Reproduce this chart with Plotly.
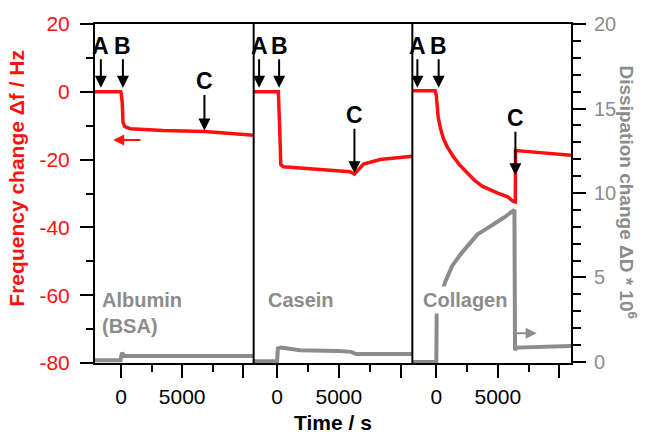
import numpy as np
import plotly.graph_objects as go

# ---------------- data ----------------
panels = ["Albumin<br>(BSA)", "Casein", "Collagen"]

# Frequency change (Hz)
t_f1 = [-2150, -50, 0, 80, 150, 300, 740, 3450, 6830, 10870]
f1 = [0, 0, -0.5, -3, -9, -10.3, -10.9, -11.4, -11.7, -12.8]
t_f2 = [-1900, 100, 200, 300, 500, 3000, 5900, 6260, 6500, 7000, 8350, 10950]
f2 = [0, 0, -10, -21.5, -22.1, -22.8, -23.6, -24.3, -23.2, -21.3, -20.0, -19.0]
t_f3 = [-1950, -100, 0, 50, 150, 350, 577, 900, 1400, 1900, 2530, 3100, 3765, 4400,
        5000, 5800, 6240, 6420, 6440, 7000, 9000, 10950]
f3 = [0.3, 0.3, -1, -4, -7.5, -11, -13.8, -16.3, -19.2, -21.6, -24.0, -26.1, -27.9, -29.0,
      -29.9, -31.0, -32.3, -32.5, -17.3, -17.5, -18.2, -18.7]

# Dissipation change (x 1e-6)
t_d1 = [-2150, -50, 0, 80, 250, 600, 3000, 7000, 10870]
d1 = [0.1, 0.1, 0.35, 0.55, 0.35, 0.35, 0.32, 0.3, 0.35]
t_d2 = [-1900, 0, 60, 300, 1000, 1850, 5000, 6000, 6400, 8000, 10950]
d2 = [0.05, 0.05, 0.8, 0.86, 0.78, 0.7, 0.65, 0.6, 0.47, 0.45, 0.47]
t_d3 = [-1950, 0, 30, 300, 750, 1300, 2000, 2700, 3350, 4000, 4700, 5500, 6350, 6400, 6500, 8000, 10950]
d3 = [0.0, 0.0, 2.9, 3.8, 4.8, 5.7, 6.4, 7.0, 7.55, 7.85, 8.15, 8.55, 9.0, 0.7, 0.85, 0.9, 0.95]

# injection events (s)
event_labels = ["A", "B", "C"]
events = [[-1670, 140, 6830], [-1460, 160, 6260], [-1540, 190, 6430]]

x_ranges = [[-2150, 10870], [-1900, 10950], [-1950, 10950]]
f_ticks = [-80, -60, -40, -20, 0, 20]
f_ticktext = ["-80", "-60", "-40", "-20", "0", "20"]
d_ticks = [0, 5, 10, 15, 20]
t_ticks = [0, 5000, 10000]
t_ticktext = ["0", "5000", ""]

RED = "#ff1010"
GRAY = "#8c8c8c"
FONT = "Liberation Sans, Arial, sans-serif"

freq = [(t_f1, f1), (t_f2, f2), (t_f3, f3)]
diss = [(t_d1, d1), (t_d2, d2), (t_d3, d3)]

fig = go.Figure()
xnames = ["x", "x2", "x3"]
for i in range(3):
    fig.add_trace(go.Scatter(x=diss[i][0], y=diss[i][1], mode="lines",
                             line=dict(color=GRAY, width=4),
                             xaxis=xnames[i], yaxis="y2", showlegend=False))
for i in range(3):
    fig.add_trace(go.Scatter(x=freq[i][0], y=freq[i][1], mode="lines",
                             line=dict(color=RED, width=3.5),
                             xaxis=xnames[i], yaxis="y", showlegend=False))

annotations = []
c_offsets = [-50, -59, -58]
for i in range(3):
    tf, ff = freq[i]
    for j, lab in enumerate(event_labels):
        te = events[i][j]
        if lab == "C":
            yv = float(np.interp(te, tf, ff))
            ay = c_offsets[i]
            so = 1
        else:
            yv = 0.0
            ay = -46
            so = 4
        annotations.append(dict(x=te, y=yv, xref=xnames[i], yref="y", text="<b>" + lab + "</b>",
                                showarrow=True, ax=0, ay=ay, arrowhead=2,
                                arrowsize=1.2, arrowwidth=2, arrowcolor="black",
                                standoff=so, borderpad=0,
                                font=dict(family=FONT, size=23, color="black")))

# protein labels
label_x = [0.0105, 0.357, 0.683]
for i, txt in enumerate(panels):
    if i == 0:
        annotations.append(dict(x=label_x[i], y=(363 - 313) / 342, xref="paper", yref="paper",
                                text="<b>" + txt + "</b>", showarrow=False, xanchor="left",
                                yanchor="middle", align="left", bgcolor="white",
                                font=dict(family=FONT, size=20, color=GRAY)))
    else:
        annotations.append(dict(x=label_x[i], y=(363 - 299) / 342, xref="paper", yref="paper",
                                text="<b>" + txt + "</b>", showarrow=False, xanchor="left",
                                yanchor="middle", bgcolor="white", borderpad=2,
                                font=dict(family=FONT, size=20, color=GRAY)))

# axis-direction arrows
annotations.append(dict(x=-660, y=-14.2, xref="x", yref="y", ax=1700, ay=-14.2,
                        axref="x", ayref="y", text="", showarrow=True, arrowhead=2,
                        arrowsize=1.1, arrowwidth=2, arrowcolor=RED))
annotations.append(dict(x=8160, y=1.7, xref="x3", yref="y2", ax=6100, ay=1.7,
                        axref="x3", ayref="y2", text="", showarrow=True, arrowhead=2,
                        arrowsize=1.1, arrowwidth=2, arrowcolor=GRAY))

# axis titles
annotations.append(dict(x=(17 - 95) / 476, y=(363 - 177) / 342, xref="paper", yref="paper",
                        xanchor="center", yanchor="middle",
                        text="<b>Frequency change Δf / Hz</b>", textangle=-90, showarrow=False,
                        font=dict(family=FONT, size=21, color=RED)))
annotations.append(dict(x=(628 - 95) / 476, y=(363 - 190) / 342, xref="paper", yref="paper",
                        xanchor="center", yanchor="middle",
                        text="<b>Dissipation change ΔD * 10<sup>6</sup></b>", textangle=90,
                        showarrow=False, font=dict(family=FONT, size=19, color=GRAY)))
annotations.append(dict(x=0.5, y=(363 - 423) / 342, xref="paper", yref="paper",
                        xanchor="center", yanchor="middle",
                        text="<b>Time / s</b>", showarrow=False,
                        font=dict(family=FONT, size=21, color="black")))

shapes = [dict(type="line", xref="paper", yref="paper", x0=k, x1=k, y0=0, y1=1,
               line=dict(color="black", width=2)) for k in (1 / 3, 2 / 3)]

layout = dict(
    width=646, height=440,
    margin=dict(l=95, r=75, t=21, b=77),
    plot_bgcolor="white", paper_bgcolor="white",
    font=dict(family=FONT),
    annotations=annotations, shapes=shapes,
    yaxis=dict(range=[-80, 20], tickvals=f_ticks, ticktext=f_ticktext, ticks="outside",
               ticklen=13, tickwidth=1.8, tickcolor="black", showline=True,
               linecolor="black", linewidth=2, showgrid=False, zeroline=False, anchor="x",
               tickfont=dict(size=21, color=RED), ticklabelstandoff=6,
               minor=dict(dtick=10, tick0=0, ticks="outside", ticklen=7,
                          tickwidth=1.8, tickcolor="black", showgrid=False)),
    yaxis2=dict(range=[-0.06, 20], tickvals=d_ticks, ticks="outside", ticklen=13,
                tickwidth=1.8, tickcolor="black", showline=True, linecolor="black",
                linewidth=2, showgrid=False, zeroline=False, overlaying="y",
                side="right", anchor="x3",
                tickfont=dict(size=20, color=GRAY), ticklabelstandoff=4,
                minor=dict(dtick=1, tick0=0, ticks="outside", ticklen=8,
                           tickwidth=1.8, tickcolor="black", showgrid=False)),
)
doms = [[0, 1 / 3], [1 / 3, 2 / 3], [2 / 3, 1]]
for i in range(3):
    key = "xaxis" if i == 0 else "xaxis%d" % (i + 1)
    layout[key] = dict(domain=doms[i], range=x_ranges[i], anchor="y",
                       tickvals=t_ticks, ticktext=t_ticktext, ticks="outside",
                       ticklen=13, tickwidth=1.8, tickcolor="black",
                       showline=True, mirror=True, linecolor="black", linewidth=2,
                       showgrid=False, zeroline=False,
                       tickfont=dict(size=21, color="black"), ticklabelstandoff=1,
                       minor=dict(tickvals=[2500, 7500], ticks="outside", ticklen=7,
                                  tickwidth=1.8, tickcolor="black", showgrid=False))
fig.update_layout(**layout)
fig.write_html("out.html")
